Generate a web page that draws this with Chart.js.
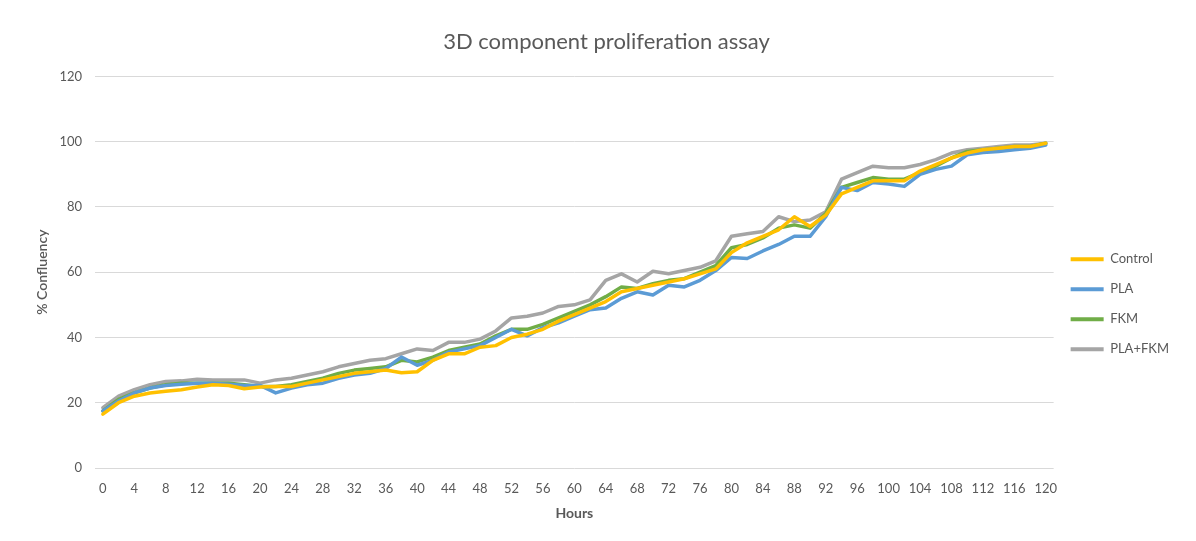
<!DOCTYPE html>
<html>
<head>
<meta charset="utf-8">
<script src="https://cdn.jsdelivr.net/npm/chart.js@4.4.1/dist/chart.umd.min.js"></script>
<style>
  html, body { margin: 0; padding: 0; background: #ffffff; }
  #wrap { width: 1196px; height: 541px; position: relative; }
</style>
</head>
<body>
<div id="wrap"><canvas id="c" width="1196" height="541"></canvas></div>
<script>
const hours = [0,2,4,6,8,10,12,14,16,18,20,22,24,26,28,30,32,34,36,38,40,42,44,46,48,50,52,54,56,58,60,62,64,66,68,70,72,74,76,78,80,82,84,86,88,90,92,94,96,98,100,102,104,106,108,110,112,114,116,118,120];

const control = [16.5,20,22,23,23.5,24,24.8,25.5,25.3,24.3,24.8,25,25,26,27,28,29,29.5,30,29.2,29.5,33,35,35,37,37.5,40,41,42.5,45,47,49,51,54,55,56,57,58,59.5,61,66,69,71,73,77,74,77.5,84,86,88,88,88,91,93,95,96.5,97.5,98,98.5,98.5,99.5];

const pla = [17.5,20.5,23,24.5,25.3,25.7,26,26,25.7,25.3,25.3,23,24.5,25.5,26,27.5,28.5,29,30.5,34,31.5,33,35.5,36.5,37.5,40,42.5,40.5,43,44.5,46.5,48.5,49,52,54,53,56,55.5,57.5,60.5,64.5,64.2,66.5,68.5,71,71,77,86,85,87.5,87,86.3,90,91.5,92.5,96,96.7,97,97.5,98,99];

const fkm = [17.5,21,23,24.5,25.5,26,26,26,26,25.5,25,25,25.5,26.5,27.5,29,30,30.5,31,33,32.5,34,36,37,38,40.5,42.5,42.5,44,46,48,50,52.5,55.5,55,56.5,57.5,58,60,62,67.5,68.5,70.5,73.5,74.5,73.5,78,86,87.5,89,88.5,88.5,90.5,92.5,95,97,97.5,98,98.5,98.5,99.5];

const plaFkm = [18.5,22,24,25.5,26.5,26.7,27.2,27,27,27,26,27,27.5,28.5,29.5,31,32,33,33.5,35,36.5,36,38.5,38.5,39.5,42,46,46.5,47.5,49.5,50,51.5,57.5,59.5,57,60.3,59.5,60.5,61.5,63.5,71,71.8,72.5,77,75.5,76,78.5,88.5,90.5,92.5,92,92,93,94.5,96.5,97.5,98,98.5,99,99,99.5];

const seriesNames = ['Control', 'PLA', 'FKM', 'PLA+FKM'];
const seriesColors = ['#FFC000', '#5B9BD5', '#70AD47', '#A5A5A5'];
const yTicks = [0, 20, 40, 60, 80, 100, 120];

const txt = '#595959';
const fontFam = 'Lato, "Open Sans", "Liberation Sans", sans-serif';

const bgPlugin = {
  id: 'bg',
  beforeDraw(chart) {
    const ctx = chart.ctx;
    ctx.save();
    ctx.fillStyle = '#ffffff';
    ctx.fillRect(0, 0, chart.width, chart.height);
    ctx.restore();
  }
};

const mk = (i, data) => ({
  label: seriesNames[i],
  data: data,
  borderColor: seriesColors[i],
  backgroundColor: seriesColors[i],
  borderWidth: 3.5,
  pointRadius: 0,
  pointHoverRadius: 0,
  tension: 0,
  fill: false,
  borderCapStyle: 'round',
  borderJoinStyle: 'round'
});

new Chart(document.getElementById('c'), {
  type: 'line',
  data: {
    labels: hours,
    datasets: [mk(0, control), mk(1, pla), mk(2, fkm), mk(3, plaFkm)]
  },
  plugins: [bgPlugin],
  options: {
    responsive: false,
    animation: false,
    devicePixelRatio: 1,
    layout: { padding: { left: 34, right: 17, top: 0, bottom: 10 } },
    plugins: {
      title: {
        display: true,
        text: '3D component proliferation assay',
        color: txt,
        font: { family: fontFam, size: 22, weight: 'normal' },
        padding: { top: 29, bottom: 21 }
      },
      legend: {
        display: true,
        position: 'right',
        align: 'center',
        title: {
          display: true,
          text: ' ',
          font: { family: fontFam, size: 13 },
          padding: { top: 0, bottom: 62 }
        },
        labels: {
          color: txt,
          font: { family: fontFam, size: 13 },
          boxWidth: 33,
          boxHeight: 4,
          padding: 17,
          generateLabels(chart) {
            const items = Chart.defaults.plugins.legend.labels.generateLabels(chart);
            items.forEach(it => { it.fillStyle = it.strokeStyle; it.lineWidth = 0; });
            return items;
          }
        }
      },
      tooltip: { enabled: false }
    },
    scales: {
      x: {
        type: 'category',
        offset: true,
        grid: { display: false, drawTicks: false },
        border: { display: false },
        ticks: {
          color: txt,
          font: { family: fontFam, size: 13 },
          autoSkip: false,
          maxRotation: 0,
          minRotation: 0,
          padding: 13,
          callback(value, index) { return index % 2 === 0 ? String(hours[index]) : ''; }
        },
        title: {
          display: true,
          text: 'Hours',
          color: txt,
          font: { family: fontFam, size: 14, weight: 'bold' },
          padding: { top: 4, bottom: 9 }
        },
        afterFit(s) { s.height = 63; }
      },
      y: {
        min: 0,
        max: 120,
        afterBuildTicks(s) { s.ticks = yTicks.map(v => ({ value: v })); },
        grid: { color: '#D9D9D9', lineWidth: 1, drawTicks: false },
        border: { display: false },
        ticks: {
          color: txt,
          font: { family: fontFam, size: 13 },
          padding: 13
        },
        title: {
          display: true,
          text: '% Confluency',
          color: txt,
          font: { family: fontFam, size: 14, weight: '600' },
          padding: { top: 0, bottom: 4 }
        },
        afterFit(s) { s.width = 61; }
      }
    }
  }
});
</script>
</body>
</html>
